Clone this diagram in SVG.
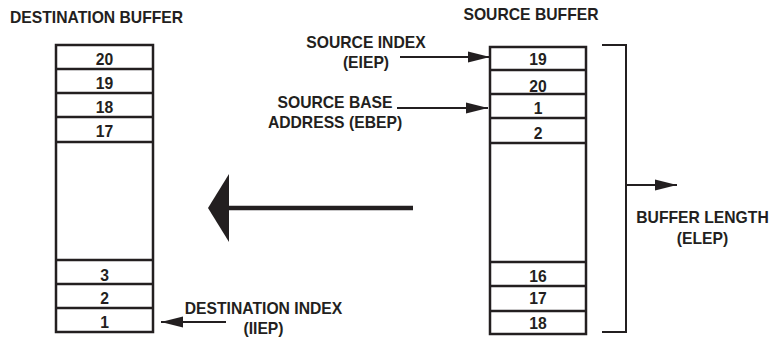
<svg xmlns="http://www.w3.org/2000/svg" width="771" height="337" viewBox="0 0 771 337">
<style>
text{font-family:"Liberation Sans",Arial,sans-serif;font-weight:bold;font-size:15.7px;fill:#231f20}
.c{text-anchor:middle}
.box{fill:#fff;stroke:#231f20;stroke-width:2.5}
.ln{stroke:#231f20;stroke-width:2.5}
.thin{fill:none;stroke:#231f20;stroke-width:2}
</style>
<defs>
<marker id="ah" markerUnits="userSpaceOnUse" markerWidth="24" markerHeight="12" refX="22" refY="6" orient="auto" viewBox="0 0 24 12">
<path d="M0,0.5 L22,6 L0,11.5 Z" fill="#231f20"/>
</marker>
</defs>
<rect width="771" height="337" fill="#fff"/>
<text x="10" y="23">DESTINATION BUFFER</text>
<text class="c" x="531" y="20">SOURCE BUFFER</text>
<g id="dest-buffer">
<rect class="box" x="56" y="45" width="97" height="287"/>
<line class="ln" x1="56" y1="69" x2="153" y2="69"/>
<line class="ln" x1="56" y1="93" x2="153" y2="93"/>
<line class="ln" x1="56" y1="117" x2="153" y2="117"/>
<line class="ln" x1="56" y1="142" x2="153" y2="142"/>
<line class="ln" x1="56" y1="260" x2="153" y2="260"/>
<line class="ln" x1="56" y1="284" x2="153" y2="284"/>
<line class="ln" x1="56" y1="308" x2="153" y2="308"/>
<text class="c" x="104.5" y="64.5">20</text>
<text class="c" x="104.5" y="88.5">19</text>
<text class="c" x="104.5" y="112.5">18</text>
<text class="c" x="104.5" y="136.5">17</text>
<text class="c" x="104.5" y="280.5">3</text>
<text class="c" x="104.5" y="303.5">2</text>
<text class="c" x="104.5" y="327.5">1</text>
</g>
<g id="source-buffer">
<rect class="box" x="490" y="47" width="96" height="287"/>
<line class="ln" x1="490" y1="70" x2="586" y2="70"/>
<line class="ln" x1="490" y1="94" x2="586" y2="94"/>
<line class="ln" x1="490" y1="118" x2="586" y2="118"/>
<line class="ln" x1="490" y1="143" x2="586" y2="143"/>
<line class="ln" x1="490" y1="262" x2="586" y2="262"/>
<line class="ln" x1="490" y1="286" x2="586" y2="286"/>
<line class="ln" x1="490" y1="311" x2="586" y2="311"/>
<text class="c" x="538" y="64.5">19</text>
<text class="c" x="538" y="91.5">20</text>
<text class="c" x="538" y="113.5">1</text>
<text class="c" x="538" y="138.5">2</text>
<text class="c" x="538" y="281.5">16</text>
<text class="c" x="538" y="303.5">17</text>
<text class="c" x="538" y="328.5">18</text>
</g>
<g id="source-index">
<text class="c" x="366" y="48">SOURCE INDEX</text>
<text class="c" x="366" y="68">(EIEP)</text>
</g>
<g id="source-base">
<text class="c" x="335" y="108">SOURCE BASE</text>
<text class="c" x="335" y="128">ADDRESS (EBEP)</text>
</g>
<g id="dest-index">
<text class="c" x="263.5" y="314">DESTINATION INDEX</text>
<text class="c" x="263.5" y="334">(IIEP)</text>
</g>
<g id="buffer-length">
<text class="c" x="702.5" y="223">BUFFER LENGTH</text>
<text class="c" x="702.5" y="244">(ELEP)</text>
</g>
<g id="connectors">
<path class="thin" d="M602,45 H626 V332 H602"/>
<line class="thin" x1="626" y1="185" x2="677" y2="185" marker-end="url(#ah)"/>
<line class="thin" x1="400" y1="57" x2="490" y2="57" marker-end="url(#ah)"/>
<line class="thin" x1="397" y1="108" x2="488" y2="108" marker-end="url(#ah)"/>
<line class="thin" x1="226" y1="322" x2="161" y2="322" marker-end="url(#ah)"/>
<line x1="413" y1="208" x2="226" y2="208" stroke="#231f20" stroke-width="4.5"/>
<path d="M208,208 L229,174 L229,242 Z" fill="#231f20"/>
</g>
</svg>
